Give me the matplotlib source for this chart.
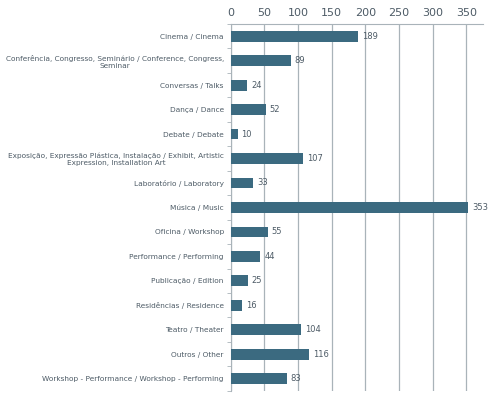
import numpy as np
import matplotlib.pyplot as plt
from matplotlib.ticker import FixedLocator

# categorias / categories
labels = [
    'Cinema / Cinema',
    'Conferência, Congresso, Seminário / Conference, Congress,\nSeminar',
    'Conversas / Talks',
    'Dança / Dance',
    'Debate / Debate',
    'Exposição, Expressão Plástica, Instalação / Exhibit, Artistic\nExpression, Installation Art',
    'Laboratório / Laboratory',
    'Música / Music',
    'Oficina / Workshop',
    'Performance / Performing',
    'Publicação / Edition',
    'Residências / Residence',
    'Teatro / Theater',
    'Outros / Other',
    'Workshop - Performance / Workshop - Performing',
]
values = [189, 89, 24, 52, 10, 107, 33, 353, 55, 44, 25, 16, 104, 116, 83]
xticks = [0, 50, 100, 150, 200, 250, 300, 350]

bar_color = '#3b6a80'
text_color = '#4d5b66'
grid_color = '#a9b3b9'

fig = plt.figure(figsize=(4.89, 3.94), dpi=100)
ax = fig.add_axes([0.472, 0.008, 0.516, 0.931])

y = np.arange(len(labels))
ax.barh(y, values, height=0.44, color=bar_color, zorder=3)

for yi, v in zip(y, values):
    ax.text(v + 6, yi, str(v), va='center', ha='left', fontsize=6, color=text_color)

ax.set_xlim(0, 375)
ax.set_ylim(len(labels) - 0.5, -0.5)
ax.xaxis.tick_top()
ax.set_xticks(xticks)
ax.tick_params(axis='x', length=0, labelsize=8, colors=text_color, pad=4)
ax.grid(axis='x', color=grid_color, linewidth=0.9, zorder=0)

ax.set_yticks(y)
ax.set_yticklabels(labels, fontsize=5.3, color=text_color, multialignment='center')
ax.tick_params(axis='y', which='major', length=0, pad=5)
ax.yaxis.set_minor_locator(FixedLocator(np.arange(-0.5, len(labels), 1)))
ax.tick_params(axis='y', which='minor', length=3, color=grid_color, direction='out')

for side in ['right', 'bottom']:
    ax.spines[side].set_visible(False)
ax.spines['top'].set_color(grid_color)
ax.spines['left'].set_color(grid_color)

plt.savefig('out.png', dpi=100)
